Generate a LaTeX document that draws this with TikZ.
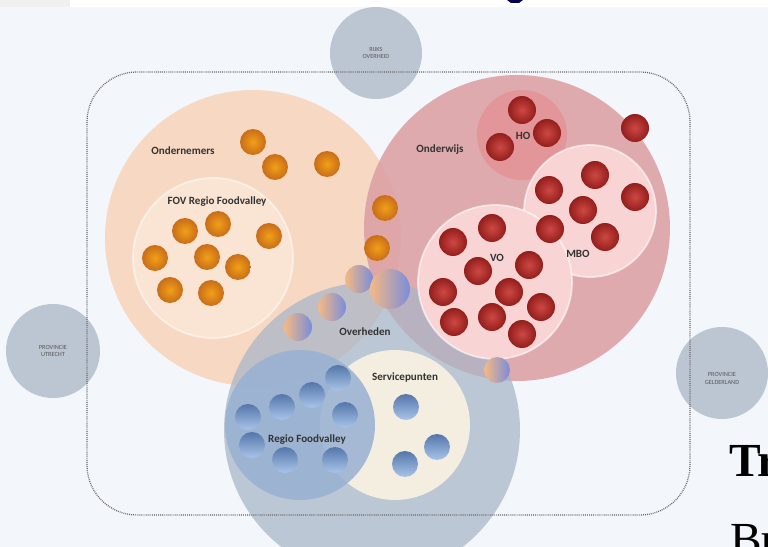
\documentclass[tikz,border=0pt]{standalone}
\usepackage{fontspec}
\setsansfont{Carlito}
\newfontfamily\pagefont{Liberation Serif}
\definecolor{PageBg}{RGB}{243, 246, 250}
\definecolor{Peach}{RGB}{247, 216, 194}
\definecolor{PeachLight}{RGB}{250, 229, 212}
\definecolor{Rose}{RGB}{220, 160, 164}
\definecolor{RoseDark}{RGB}{228, 146, 150}
\definecolor{RoseLight}{RGB}{249, 212, 212}
\definecolor{Slate}{RGB}{168, 181, 200}
\definecolor{SkyBlue}{RGB}{152, 176, 210}
\definecolor{Cream}{RGB}{243, 238, 224}
\definecolor{SideGrey}{RGB}{188, 197, 210}
\definecolor{DotOrange}{RGB}{236, 128, 30}
\definecolor{DotRed}{RGB}{196, 40, 36}
\definecolor{DotBlueTop}{RGB}{84, 118, 170}
\definecolor{DotBlueBottom}{RGB}{168, 196, 232}
\usepackage{tikz}
\usetikzlibrary{positioning, shadings}

\begin{document}
\begin{tikzpicture}[x=0.02cm, y=-0.02cm,
        zone/.style={circle, inner sep=0pt, minimum size=#1*0.4mm},
        outer/.style={circle, inner sep=0pt, minimum size=#1*0.4mm, fill=SideGrey},
        odot/.style={circle, inner sep=0pt, minimum size=5.2mm, inner color=DotOrange!75!yellow, outer color=DotOrange!85!black},
        rdot/.style={circle, inner sep=0pt, minimum size=5.6mm, inner color=DotRed!85!white, outer color=DotRed!75!black},
        bdot/.style={circle, inner sep=0pt, minimum size=5.2mm, top color=DotBlueTop, bottom color=DotBlueBottom},
        mixdot/.style={circle, inner sep=0pt, minimum size=#1*0.4mm, left color=DotOrange!55, middle color=violet!35, right color=SkyBlue!80!blue},
        lbl/.style={font=\sffamily\bfseries\fontsize{6.3}{7}\selectfont, text=black!80, inner sep=0pt},
        sidelbl/.style={font=\sffamily\fontsize{3.6}{4.3}\selectfont, text=black!65, align=center, inner sep=0pt}
    ]
        \fill[PageBg] (0,0) rectangle (768,547);
        \useasboundingbox (0,0) rectangle (768,547);
        \fill[gray!12] (0,0) rectangle (70,7);
        \fill[white] (70,0) rectangle (768,7);
        \fill[blue!30!black] (507,0) -- (523,0) -- (519,3) -- (511,3) -- cycle;

        \node[outer=46] (rijks) at (376,53) {};
        \node[outer=47] (utrecht) at (53,351) {};
        \node[outer=46] (gelderland) at (722,373) {};
        \node[sidelbl] at (rijks) {RIJKS\\OVERHEID};
        \node[sidelbl] at (utrecht) {PROVINCIE\\UTRECHT};
        \node[sidelbl] at ([yshift=-3]gelderland) {PROVINCIE\\GELDERLAND};

        \node[zone=148, fill=Peach] (ondernemers) at (253,238) {};
        \node[zone=153, fill=Rose, fill opacity=0.88] (onderwijs) at (517,228) {};
        \node[zone=148, fill=Slate, fill opacity=0.72] (overheden) at (372,430) {};
        \node[zone=80, fill=PeachLight, draw=white, draw opacity=0.5, line width=1pt] (fov) at (213,258) {};
        \node[zone=45, fill=RoseDark, fill opacity=0.8] (ho) at (522,135) {};
        \node[zone=66, fill=RoseLight, draw=white, draw opacity=0.6, line width=1pt] (mbo) at (590,211) {};
        \node[zone=77, fill=RoseLight, draw=white, draw opacity=0.6, line width=1pt] (vo) at (495,282) {};
        \node[zone=75, fill=Cream] (servicepunten) at (395,425) {};
        \node[zone=75, fill=SkyBlue, fill opacity=0.85] (regio) at (300,425) {};

        \foreach \px/\py [count=\i] in {253/142, 275/167, 327/164, 185/231, 218/224, 269/236, 155/258, 207/257, 238/267, 170/290, 211/293, 385/208, 377/248}
            \node[odot] (o\i) at (\px,\py) {};
        \foreach \px/\py [count=\i] in {522/110, 547/133, 500/147, 635/128, 595/175, 549/190, 635/197, 583/210, 550/229, 605/237, 492/228, 453/242, 478/271, 529/265, 443/292, 509/292, 541/307, 454/322, 492/317, 522/334}
            \node[rdot] (r\i) at (\px,\py) {};
        \foreach \px/\py [count=\i] in {338/378, 312/395, 282/407, 345/415, 248/417, 252/445, 285/460, 335/460, 406/407, 437/447, 405/464}
            \node[bdot] (b\i) at (\px,\py) {};
        \foreach \px/\py/\rr [count=\i] in {359/279/14, 390/289/20, 332/307/14, 298/327/14, 497/370/13}
            \node[mixdot=\rr] (m\i) at (\px,\py) {};

        \node[lbl] (lond) at (183,151) {Ondernemers};
        \node[lbl] (lfov) at (217,202) {FOV Regio Foodvalley};
        \node[lbl] (lonw) at (440,150) {Onderwijs};
        \node[lbl] (lho) at (523,136) {HO};
        \node[lbl] (lmbo) at (578,254) {MBO};
        \node[lbl] (lvo) at (497,258) {VO};
        \node[lbl] (lover) at (365,332) {Overheden};
        \node[lbl] (lserv) at (405,377) {Servicepunten};
        \node[lbl] (lregio) at (307,440) {Regio Foodvalley};

        \draw[black!60, line width=0.7pt, dash pattern=on 0.5pt off 0.6pt, rounded corners=1cm] (87,72) rectangle (690,515);

        \node[anchor=base west, inner sep=0pt, font=\pagefont\bfseries\fontsize{27}{30}\selectfont] (tr) at (729,477) {Tr};
        \node[anchor=base west, inner sep=0pt, font=\pagefont\fontsize{27}{30}\selectfont] (bu) at (730,555) {Bu};
    \end{tikzpicture}
\end{document}
